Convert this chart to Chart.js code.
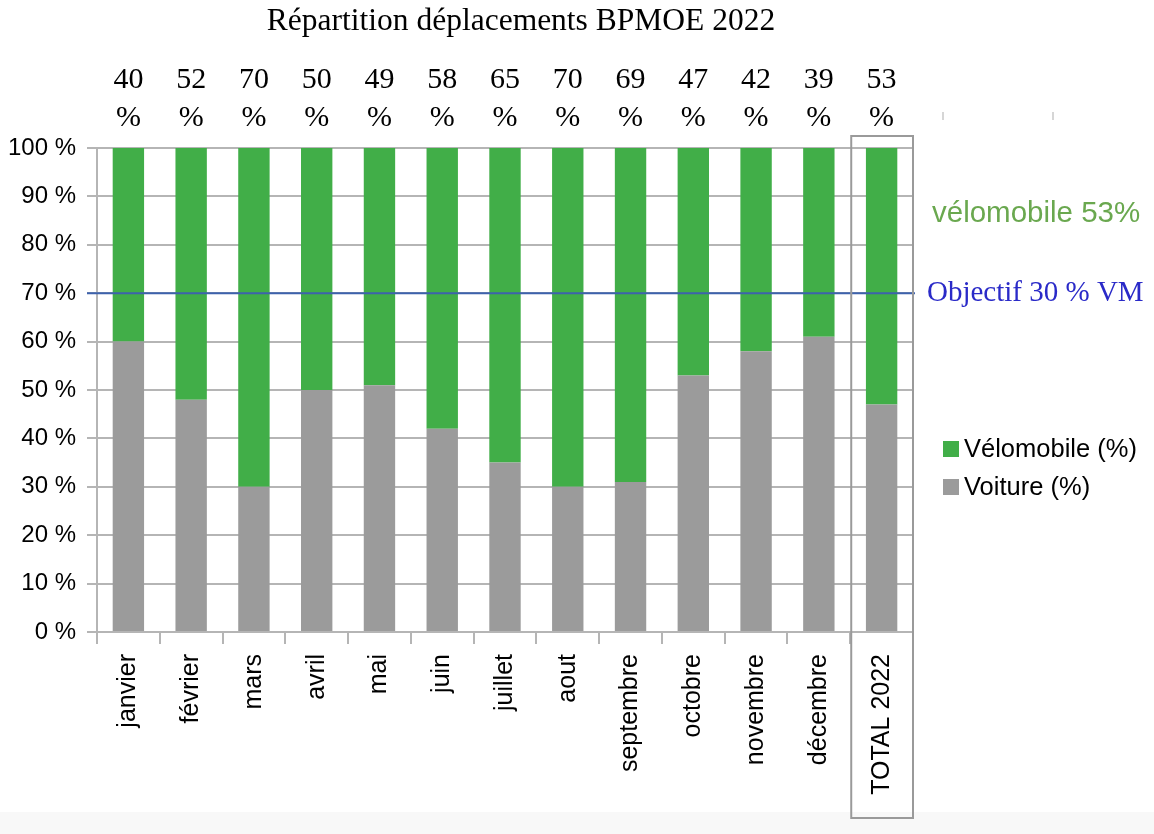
<!DOCTYPE html>
<html>
<head>
<meta charset="utf-8">
<script src="https://cdn.jsdelivr.net/npm/chart.js@4.4.0/dist/chart.umd.min.js"></script>
<style>
  html, body { margin: 0; padding: 0; background: #fff; }
  #wrap { width: 1154px; height: 834px; position: relative; }
</style>
</head>
<body>
<div id="wrap"><canvas id="chart"></canvas></div>
<script>
// data
const categories = ['janvier', 'février', 'mars', 'avril', 'mai', 'juin', 'juillet', 'aout',
    'septembre', 'octobre', 'novembre', 'décembre', 'TOTAL 2022'];
const velomobile = [40, 52, 70, 50, 49, 58, 65, 70, 69, 47, 42, 39, 53];
const voiture = [60, 48, 30, 50, 51, 42, 35, 30, 31, 53, 58, 61, 47];
const objectifLine = 70;
const yMax = 100;
const yStep = 10;

const GREEN = '#41ae48';
const GREY = '#9b9b9b';
const GRID = '#b5b5b5';

// title, value labels, target line, notes, legend and total box
const overlay = {
    id: 'overlay',
    beforeDraw(chart) {
        const ctx = chart.ctx;
        ctx.save();
        ctx.fillStyle = '#f8f8f8';
        ctx.fillRect(0, 812, chart.width, chart.height - 812);
        ctx.restore();
    },
    afterDatasetsDraw(chart) {
        const ctx = chart.ctx;
        const x = chart.scales.x;
        const y = chart.scales.y;
        ctx.save();
        const yPix = y.getPixelForValue(objectifLine);
        ctx.strokeStyle = '#3d62ad';
        ctx.lineWidth = 2;
        ctx.beginPath();
        ctx.moveTo(x.left - 10, yPix);
        ctx.lineTo(x.right + 2, yPix);
        ctx.stroke();
        ctx.restore();
    },
    afterDraw(chart) {
        const ctx = chart.ctx;
        const x = chart.scales.x;
        const y = chart.scales.y;
        ctx.save();

        // title
        ctx.fillStyle = '#000';
        ctx.textAlign = 'center';
        ctx.textBaseline = 'middle';
        ctx.font = '31.5px "Liberation Serif"';
        ctx.fillText('Répartition déplacements BPMOE 2022', 521, 22);

        // velomobile share above each bar
        ctx.font = '30px "Liberation Serif"';
        velomobile.forEach((v, i) => {
            const xp = x.getPixelForValue(i);
            ctx.fillText(String(v), xp, 80);
            ctx.fillText('%', xp, 118);
        });

        // stray ticks at top right
        ctx.strokeStyle = '#c8c8c8';
        ctx.lineWidth = 1.5;
        [943, 1053].forEach(px => {
            ctx.beginPath();
            ctx.moveTo(px, 112);
            ctx.lineTo(px, 120);
            ctx.stroke();
        });

        // notes on the right
        ctx.textAlign = 'left';
        ctx.fillStyle = '#6aa84f';
        ctx.font = '29.5px "Liberation Sans"';
        ctx.fillText('vélomobile 53%', 932, 214);

        ctx.fillStyle = '#2a2ac8';
        ctx.font = '29px "Liberation Serif"';
        ctx.fillText('Objectif 30 % VM', 927, y.getPixelForValue(objectifLine));

        // legend
        const items = [
            { label: chart.data.datasets[1].label, color: GREEN },
            { label: chart.data.datasets[0].label, color: GREY }
        ];
        ctx.font = '25.5px "Liberation Sans"';
        items.forEach((it, i) => {
            const cy = 449 + i * 38;
            ctx.fillStyle = it.color;
            ctx.fillRect(943, cy - 8, 16, 16);
            ctx.fillStyle = '#000';
            ctx.fillText(it.label, 964, cy + 1);
        });

        // box round the total column
        const catW = x.width / categories.length;
        const bx = x.getPixelForValue(categories.length - 1) - catW / 2 + 1;
        ctx.strokeStyle = '#9a9a9a';
        ctx.lineWidth = 2;
        ctx.strokeRect(bx, 136, x.right - bx, 818 - 136);

        ctx.restore();
    }
};

new Chart(document.getElementById('chart'), {
    type: 'bar',
    data: {
        labels: categories,
        datasets: [{
            label: 'Voiture (%)',
            data: voiture,
            backgroundColor: GREY
        }, {
            label: 'Vélomobile (%)',
            data: velomobile,
            backgroundColor: GREEN
        }]
    },
    options: {
        responsive: true,
        maintainAspectRatio: false,
        animation: false,
        layout: { padding: { top: 148, right: 241, left: 0, bottom: 0 } },
        datasets: { bar: { categoryPercentage: 1, barPercentage: 0.5 } },
        plugins: {
            legend: { display: false },
            tooltip: { enabled: false }
        },
        scales: {
            x: {
                stacked: true,
                afterFit(scale) { scale.height = 202; },
                grid: {
                    offset: true,
                    drawOnChartArea: false,
                    tickLength: 12,
                    color: GRID,
                    lineWidth: 2
                },
                border: { display: true, color: GRID, width: 2 },
                ticks: {
                    minRotation: 90,
                    maxRotation: 90,
                    autoSkip: false,
                    padding: 10,
                    color: '#000',
                    font: { family: '"Liberation Sans"', size: 25 }
                }
            },
            y: {
                stacked: true,
                min: 0,
                max: yMax,
                afterFit(scale) { scale.width = 97; },
                grid: {
                    color: GRID,
                    lineWidth: 2,
                    tickLength: 10
                },
                border: { display: true, color: GRID, width: 2 },
                ticks: {
                    stepSize: yStep,
                    padding: 11,
                    color: '#000',
                    font: { family: '"Liberation Sans"', size: 24 },
                    callback: v => v + ' %'
                }
            }
        }
    },
    plugins: [overlay]
});
</script>
</body>
</html>
